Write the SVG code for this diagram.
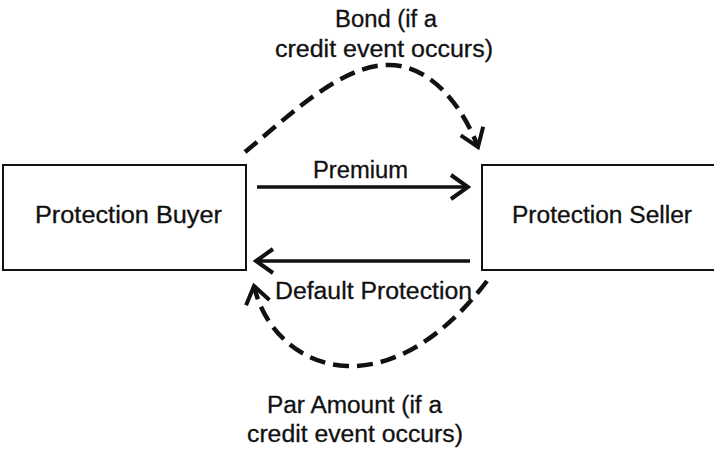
<svg xmlns="http://www.w3.org/2000/svg" width="714" height="454" viewBox="0 0 714 454">
  <style>
    .box { fill: #ffffff; stroke: #111; stroke-width: 2; }
    .lbl { font-family: "Liberation Sans", Arial, Helvetica, sans-serif; font-size: 23px; fill: #111; stroke: #111; stroke-width: 0.3; }
    .flow { fill: none; stroke: #111; stroke-width: 3.5; }
    .dash { fill: none; stroke: #111; stroke-width: 4.5; stroke-dasharray: 16 8; }
  </style>
  <defs>
    <marker id="chev" viewBox="0 0 22 28" refX="19" refY="14" markerWidth="22" markerHeight="28" markerUnits="userSpaceOnUse" orient="auto">
      <path d="M2,2 L19,14 L2,26" fill="none" stroke="#111" stroke-width="4" stroke-linejoin="miter"/>
    </marker>
  </defs>

  <rect width="714" height="454" fill="#ffffff"/>

  <g id="buyer">
    <rect class="box" x="3" y="165" width="243" height="105"/>
    <text class="lbl" x="35" y="223" textLength="187" lengthAdjust="spacingAndGlyphs">Protection Buyer</text>
  </g>

  <g id="seller">
    <rect class="box" x="482" y="165" width="240" height="105"/>
    <text class="lbl" x="512" y="223" textLength="180" lengthAdjust="spacingAndGlyphs">Protection Seller</text>
  </g>

  <g id="connectors">
    <!-- premium payments: buyer to seller -->
    <path class="flow" d="M257,187 L468,187" marker-end="url(#chev)"/>
    <text class="lbl" x="313" y="178" textLength="95" lengthAdjust="spacingAndGlyphs">Premium</text>

    <!-- default protection: seller to buyer -->
    <path class="flow" d="M470,261 L256,261" marker-end="url(#chev)"/>
    <text class="lbl" x="275" y="299" textLength="197" lengthAdjust="spacingAndGlyphs">Default Protection</text>

    <!-- bond delivered on a credit event -->
    <path class="dash" d="M245,152 C290,115 340,66 387,65 C430,64 462,105 478,147" marker-end="url(#chev)"/>
    <text class="lbl" x="335" y="27" textLength="102" lengthAdjust="spacingAndGlyphs">Bond (if a</text>
    <text class="lbl" x="275" y="57" textLength="218" lengthAdjust="spacingAndGlyphs">credit event occurs)</text>

    <!-- par amount paid on a credit event -->
    <path class="dash" d="M487,281 C450,330 400,368 347,366 C300,364 264,330 254,286" marker-end="url(#chev)"/>
    <text class="lbl" x="267" y="413" textLength="175" lengthAdjust="spacingAndGlyphs">Par Amount (if a</text>
    <text class="lbl" x="247" y="442" textLength="216" lengthAdjust="spacingAndGlyphs">credit event occurs)</text>
  </g>
</svg>
